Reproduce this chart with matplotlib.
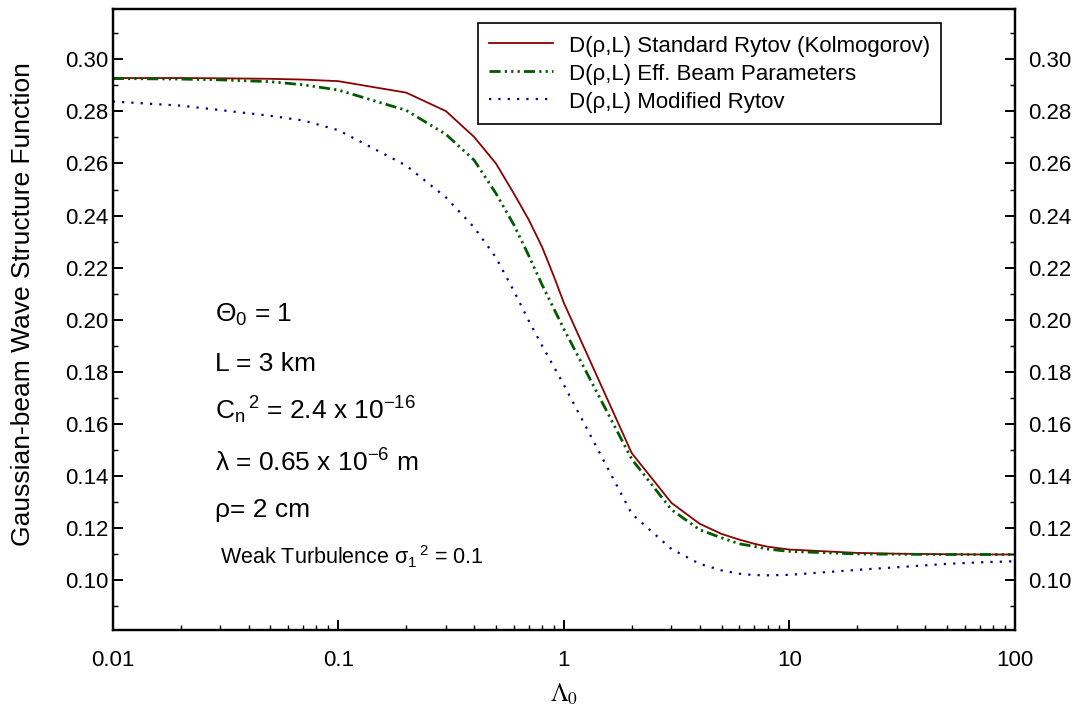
import matplotlib
matplotlib.use("Agg")
import matplotlib.pyplot as plt
from matplotlib.ticker import FixedLocator, LogLocator, NullFormatter, FixedFormatter

plt.rcParams['font.family'] = ['Liberation Sans', 'DejaVu Sans']
plt.rcParams['mathtext.fontset'] = 'custom'
plt.rcParams['mathtext.rm'] = 'Liberation Sans'
plt.rcParams['mathtext.it'] = 'Liberation Sans:italic'
plt.rcParams['mathtext.bf'] = 'Liberation Sans:bold'

# ---- data ----
lambda0 = [0.01, 0.02, 0.03, 0.05, 0.07, 0.1, 0.2, 0.3, 0.4, 0.5, 0.6, 0.7, 0.8, 0.9,
           1, 2, 3, 4, 5, 6, 7, 8, 9, 10, 20, 30, 50, 70, 100]
standard_rytov = [0.2928, 0.2928, 0.2927, 0.2925, 0.2922, 0.2916, 0.2872, 0.2801, 0.2702,
                  0.2600, 0.2485, 0.2383, 0.2280, 0.2170, 0.2065, 0.1488, 0.1297, 0.1217,
                  0.1178, 0.1156, 0.1140, 0.1129, 0.1123, 0.1118, 0.1105, 0.1102, 0.1100,
                  0.1099, 0.1099]
eff_beam = [0.2926, 0.2924, 0.2921, 0.2914, 0.2902, 0.2882, 0.2804, 0.2712, 0.2613,
            0.2485, 0.2365, 0.2245, 0.2135, 0.2045, 0.1965, 0.1465, 0.1271, 0.1194,
            0.1163, 0.1140, 0.1130, 0.1120, 0.1115, 0.1111, 0.1101, 0.1100, 0.1099,
            0.1099, 0.1099]
modified_rytov = [0.2838, 0.2822, 0.2805, 0.2783, 0.2765, 0.2728, 0.2592, 0.2470, 0.2355,
                  0.2239, 0.2111, 0.1995, 0.1901, 0.1822, 0.1750, 0.1255, 0.1120, 0.1063,
                  0.1038, 0.1025, 0.1020, 0.1019, 0.1020, 0.1021, 0.1040, 0.1050, 0.1063,
                  0.1069, 0.1073]

series_labels = ['D(\u03c1,L) Standard Rytov (Kolmogorov)',
                 'D(\u03c1,L) Eff. Beam Parameters',
                 'D(\u03c1,L) Modified Rytov']
x_ticks = [0.01, 0.1, 1, 10, 100]
x_ticklabels = ['0.01', '0.1', '1', '10', '100']
y_ticks = [0.10, 0.12, 0.14, 0.16, 0.18, 0.20, 0.22, 0.24, 0.26, 0.28, 0.30]
y_ticklabels = ['%.2f' % v for v in y_ticks]
y_minor = [0.09, 0.11, 0.13, 0.15, 0.17, 0.19, 0.21, 0.23, 0.25, 0.27, 0.29, 0.31]

annotations = [r'$\mathrm{\Theta_0}$ = 1',
               'L = 3 km',
               r'$\mathrm{{C_n}^{\,2}}$ = 2.4 x 10$^{\mathrm{-16}}$',
               r'$\mathrm{\lambda}$ = 0.65 x 10$^{\mathrm{-6}}$ m',
               '\u03c1= 2 cm']
weak_text = r'Weak Turbulence $\mathrm{{\sigma_1}^{\,2}}$ = 0.1'

# ---- figure ----
W, H = 1077, 715
fig = plt.figure(figsize=(W / 100, H / 100), dpi=100)
ax = fig.add_axes([112.7 / W, 1 - 630.3 / H, (1015 - 112.7) / W, (630.3 - 9) / H])

ax.plot(lambda0, standard_rytov, color='#8b0000', lw=1.3, linestyle='-', label=series_labels[0])
ax.plot(lambda0, eff_beam, color='#005a00', lw=2.0,
        linestyle=(0, (4, 1.5, 0.8, 1.5, 0.8, 1.5, 0.8, 1.5)), label=series_labels[1])
ax.plot(lambda0, modified_rytov, color='#00008b', lw=1.6,
        linestyle=(0, (1, 3.2)), label=series_labels[2])

ax.set_xscale('log')
ax.set_xlim(0.01, 100)
ax.set_ylim(0.0808, 0.3193)

ax.xaxis.set_major_locator(FixedLocator(x_ticks))
ax.xaxis.set_major_formatter(FixedFormatter(x_ticklabels))
ax.xaxis.set_minor_locator(LogLocator(base=10, subs=[2, 3, 4, 5, 6, 7, 8, 9]))
ax.xaxis.set_minor_formatter(NullFormatter())
ax.yaxis.set_major_locator(FixedLocator(y_ticks))
ax.yaxis.set_major_formatter(FixedFormatter(y_ticklabels))
ax.yaxis.set_minor_locator(FixedLocator(y_minor))

for s in ax.spines.values():
    s.set_linewidth(1.6)

ax.tick_params(axis='both', which='major', direction='in', length=7, width=1.4, labelsize=16)
ax.tick_params(axis='both', which='minor', direction='in', length=3.5, width=1.0)
ax.tick_params(axis='x', which='both', top=False, pad=14)
ax.tick_params(axis='y', which='both', left=True, right=False, pad=3)

ax2 = ax.twinx()
ax2.set_ylim(ax.get_ylim())
ax2.yaxis.set_major_locator(FixedLocator(y_ticks))
ax2.yaxis.set_major_formatter(FixedFormatter(y_ticklabels))
ax2.yaxis.set_minor_locator(FixedLocator(y_minor))
ax2.tick_params(axis='y', which='major', direction='in', length=7, width=1.4, labelsize=16, pad=9.5)
ax2.tick_params(axis='y', which='minor', direction='in', length=3.5, width=1.0)
for s in ax2.spines.values():
    s.set_linewidth(1.6)

ax.set_ylabel('Gaussian-beam Wave Structure Function', fontsize=19)
ax.yaxis.label.set_va('center')
ax.yaxis.set_label_coords((23 - 112.7) / 902.3, (630.3 - 304.5) / 621.3)
ax.set_xlabel(r'$\Lambda_0$', fontsize=18, math_fontfamily='stix')
ax.xaxis.label.set_va('center')
ax.xaxis.set_label_coords(0.5, (630.3 - 694) / 621.3)

leg = ax.legend(loc='upper left', bbox_to_anchor=(478 / W, 1 - 23 / H),
                bbox_transform=fig.transFigure, borderaxespad=0, fontsize=16,
                frameon=True, fancybox=False, edgecolor='black', framealpha=1,
                handlelength=2.86, handletextpad=0.73, handleheight=1.0,
                labelspacing=0.25, borderpad=0.5)
leg.get_frame().set_linewidth(1.2)

baselines = [322, 371, 419, 472, 517]
for txt, yb in zip(annotations, baselines):
    fig.text(215 / W, 1 - yb / H, txt, fontsize=19, va='baseline', ha='left')
fig.text(220 / W, 1 - 564 / H, weak_text, fontsize=15.5, va='baseline', ha='left')

fig.savefig('out.png', dpi=100)
